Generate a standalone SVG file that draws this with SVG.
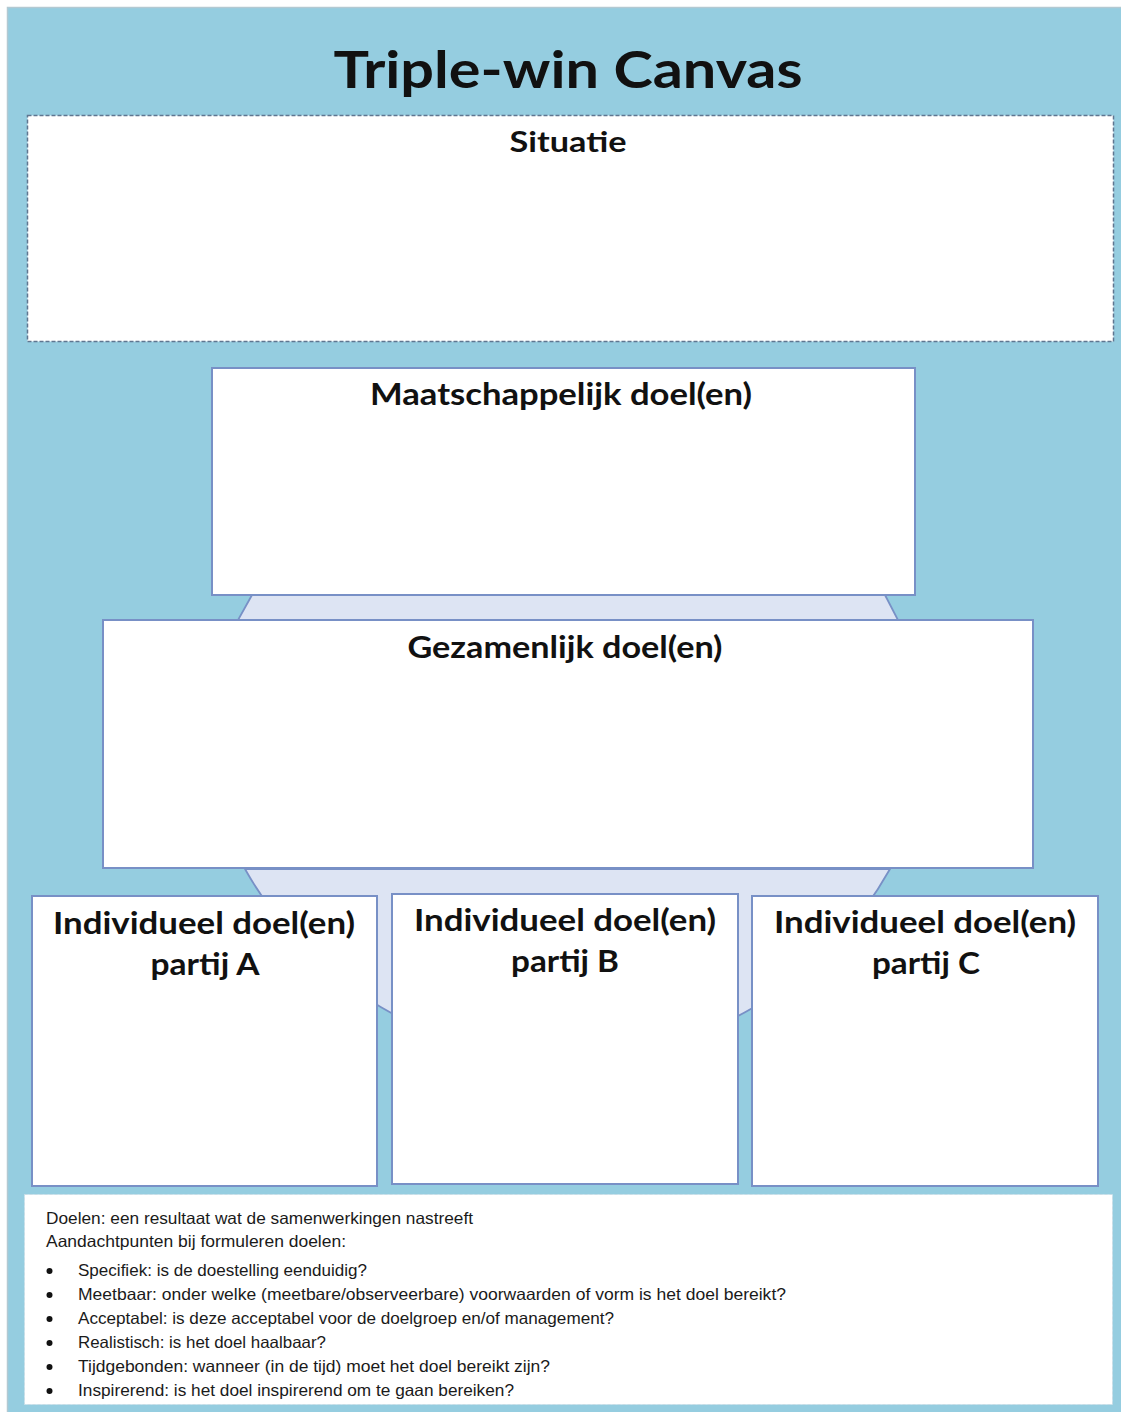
<svg xmlns="http://www.w3.org/2000/svg" width="1121" height="1412" viewBox="0 0 1121 1412">
<style>
.box{fill:#ffffff;stroke:#7890c6;stroke-width:2}
.link{fill:#dde4f3;stroke:#7890c6;stroke-width:1.8}
.h{font-family:Lato,"Open Sans",sans-serif;font-weight:bold;fill:#111;text-anchor:middle}
.t{font-family:"Liberation Sans",Arial,sans-serif;font-size:16.5px;fill:#1a1a1a}
</style>
<rect x="0" y="0" width="1121" height="1412" fill="#ffffff"/>
<rect x="7.5" y="7.5" width="1120" height="1410" fill="#95cde0" stroke="#b3c9d2" stroke-width="1.5"/>
<text class="h" x="568" y="88" font-size="52" textLength="469" lengthAdjust="spacingAndGlyphs">Triple-win Canvas</text>

<g id="connectors">
<path class="link" d="M252,595 L885,595 L898,620 L238,620 Z"/>
<path class="link" d="M245,869 A370,370 0 0 0 890,869 Z"/>
</g>

<g id="situatie">
<rect x="27.5" y="115.5" width="1086" height="226" fill="#ffffff" stroke="#5f7690" stroke-width="1.5" stroke-dasharray="4 2"/>
<text class="h" x="568" y="152" font-size="28" textLength="117" lengthAdjust="spacingAndGlyphs">Situatie</text>
</g>

<g id="maatschappelijk">
<rect class="box" x="212" y="368" width="703" height="227"/>
<text class="h" x="561" y="405" font-size="30" textLength="382" lengthAdjust="spacingAndGlyphs">Maatschappelijk doel(en)</text>
</g>

<g id="gezamenlijk">
<rect class="box" x="103" y="620" width="930" height="248"/>
<text class="h" x="565" y="658" font-size="30" textLength="315" lengthAdjust="spacingAndGlyphs">Gezamenlijk doel(en)</text>
</g>

<g id="partijA">
<rect class="box" x="32" y="896" width="345" height="290"/>
<text class="h" x="204" y="934" font-size="30" textLength="302" lengthAdjust="spacingAndGlyphs">Individueel doel(en)</text>
<text class="h" x="205" y="975" font-size="30" textLength="109" lengthAdjust="spacingAndGlyphs">partij A</text>
</g>

<g id="partijB">
<rect class="box" x="392" y="894" width="346" height="290"/>
<text class="h" x="565" y="931" font-size="30" textLength="302" lengthAdjust="spacingAndGlyphs">Individueel doel(en)</text>
<text class="h" x="565" y="972" font-size="30" textLength="108" lengthAdjust="spacingAndGlyphs">partij B</text>
</g>

<g id="partijC">
<rect class="box" x="752" y="896" width="346" height="290"/>
<text class="h" x="925" y="933" font-size="30" textLength="302" lengthAdjust="spacingAndGlyphs">Individueel doel(en)</text>
<text class="h" x="926" y="974" font-size="30" textLength="108" lengthAdjust="spacingAndGlyphs">partij C</text>
</g>

<g id="notes">
<rect x="24.5" y="1194.5" width="1088" height="210" fill="#ffffff" stroke="#c8dde6" stroke-width="1" stroke-dasharray="3 2"/>
<text class="t" x="46" y="1224" textLength="427" lengthAdjust="spacingAndGlyphs">Doelen: een resultaat wat de samenwerkingen nastreeft</text>
<text class="t" x="46" y="1247" textLength="300" lengthAdjust="spacingAndGlyphs">Aandachtpunten bij formuleren doelen:</text>
<g fill="#111">
<circle cx="49.5" cy="1271" r="3"/>
<circle cx="49.5" cy="1295" r="3"/>
<circle cx="49.5" cy="1319" r="3"/>
<circle cx="49.5" cy="1343" r="3"/>
<circle cx="49.5" cy="1367" r="3"/>
<circle cx="49.5" cy="1391" r="3"/>
</g>
<text class="t" x="78" y="1276" textLength="289" lengthAdjust="spacingAndGlyphs">Specifiek: is de doestelling eenduidig?</text>
<text class="t" x="78" y="1300" textLength="708" lengthAdjust="spacingAndGlyphs">Meetbaar: onder welke (meetbare/observeerbare) voorwaarden of vorm is het doel bereikt?</text>
<text class="t" x="78" y="1324" textLength="536" lengthAdjust="spacingAndGlyphs">Acceptabel: is deze acceptabel voor de doelgroep en/of management?</text>
<text class="t" x="78" y="1348" textLength="248" lengthAdjust="spacingAndGlyphs">Realistisch: is het doel haalbaar?</text>
<text class="t" x="78" y="1372" textLength="472" lengthAdjust="spacingAndGlyphs">Tijdgebonden: wanneer (in de tijd) moet het doel bereikt zijn?</text>
<text class="t" x="78" y="1396" textLength="436" lengthAdjust="spacingAndGlyphs">Inspirerend: is het doel inspirerend om te gaan bereiken?</text>
</g>
</svg>
